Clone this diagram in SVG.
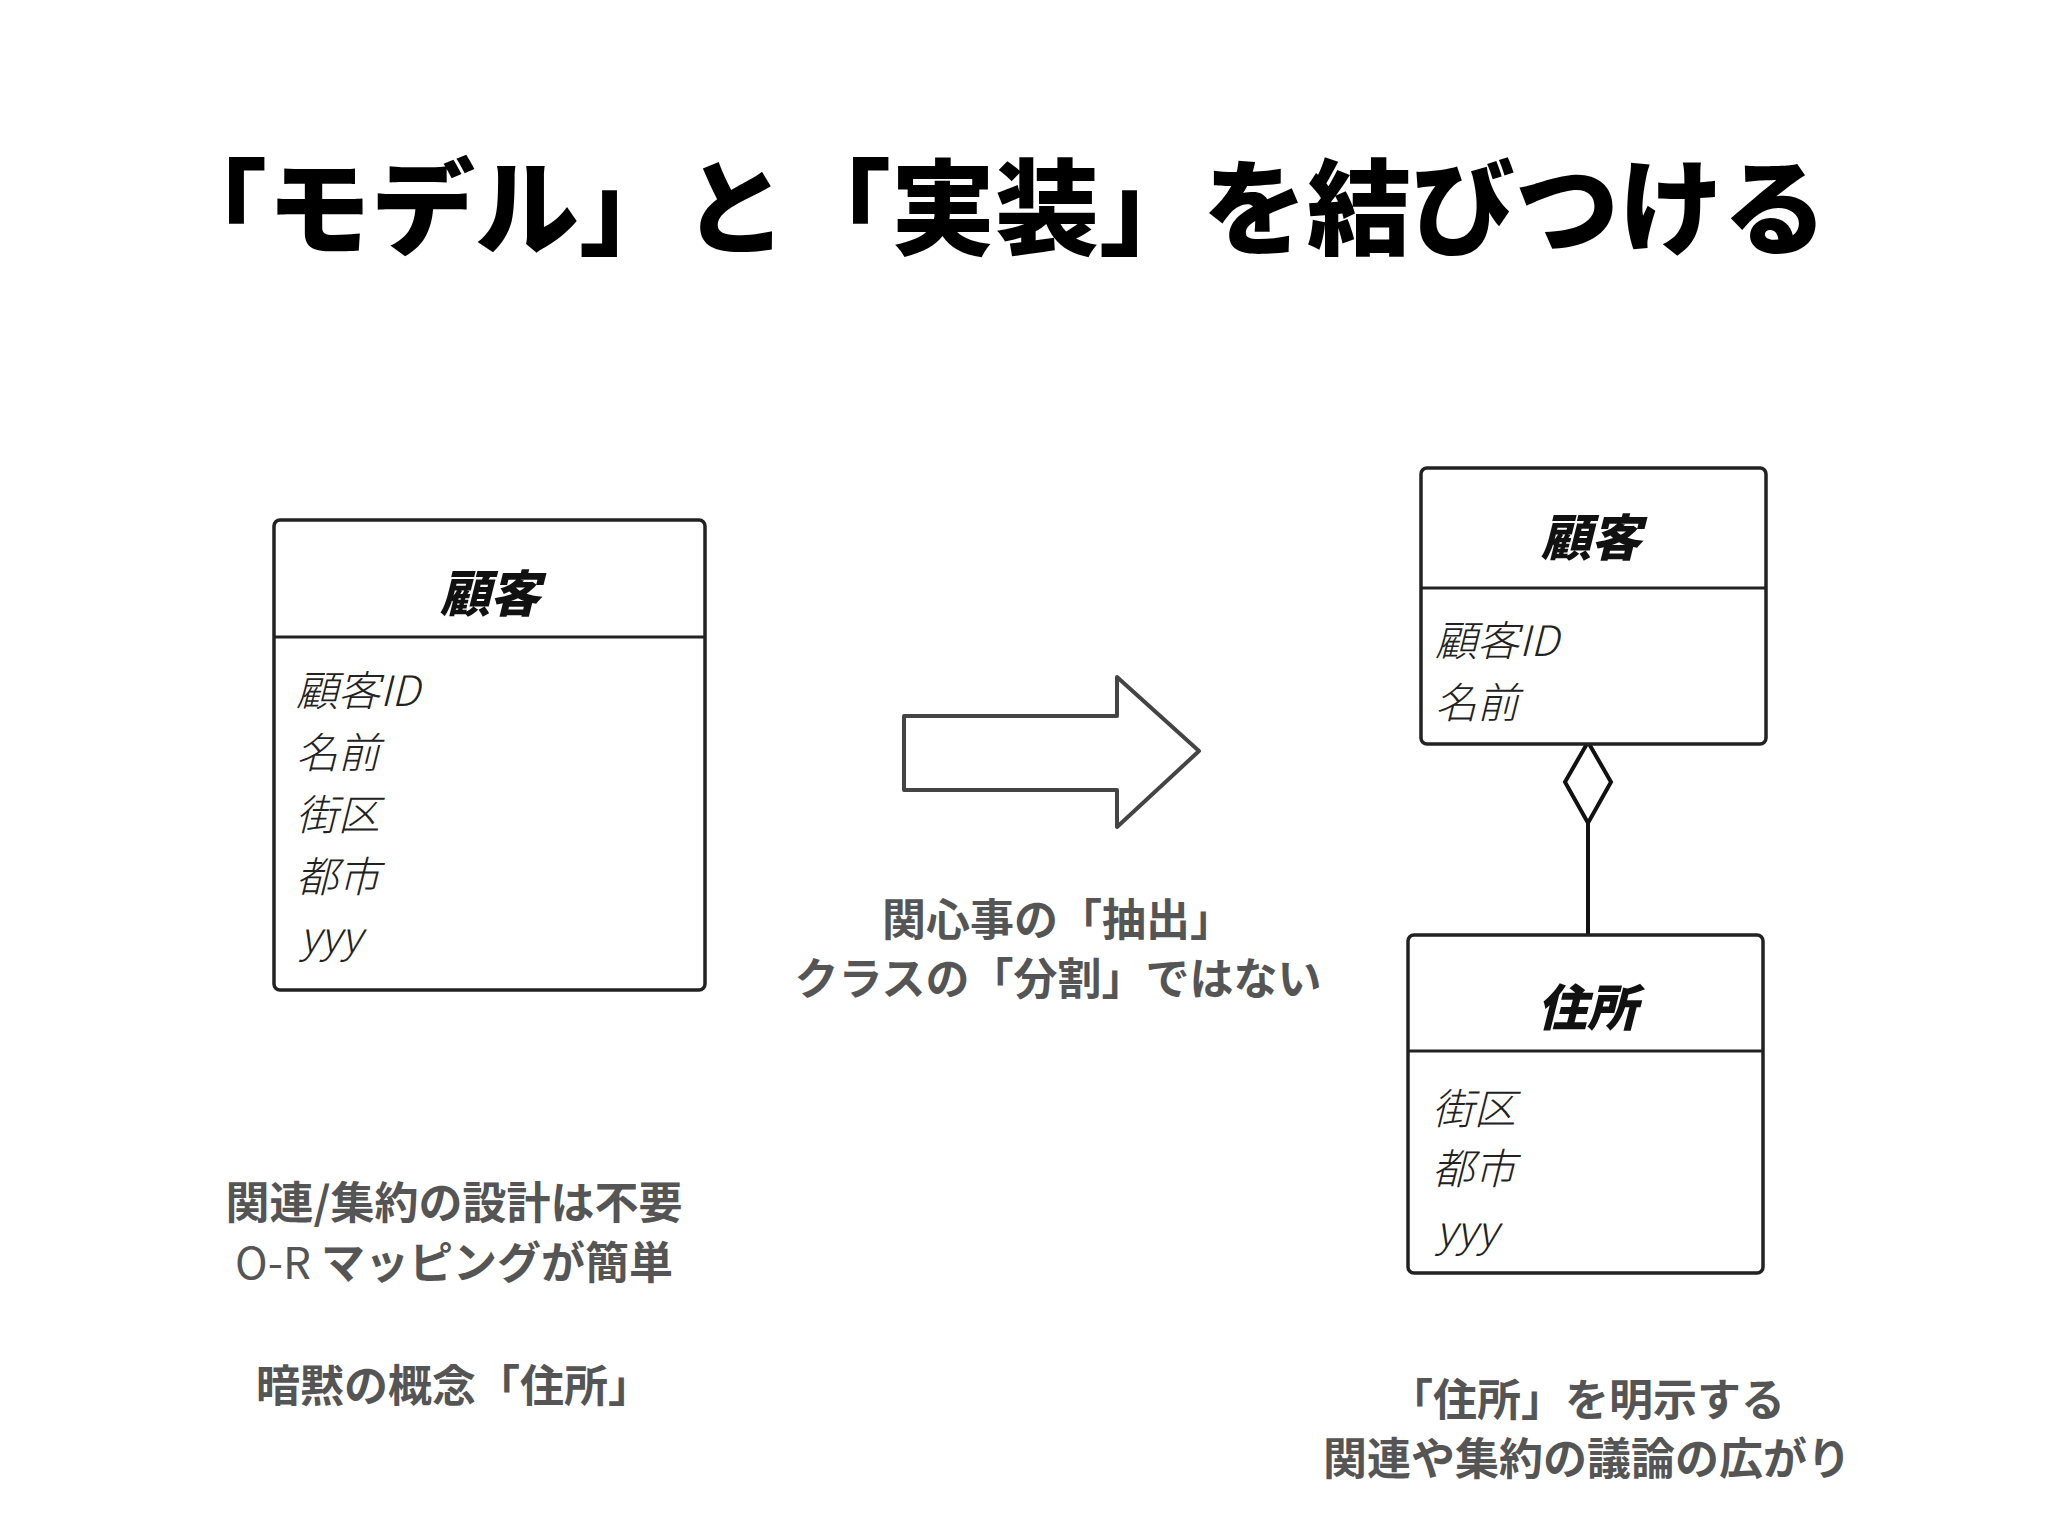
<svg xmlns="http://www.w3.org/2000/svg" width="2048" height="1535" viewBox="0 0 2048 1535">
<style>
.t{font-family:"Noto Sans CJK JP","Liberation Sans",sans-serif;font-weight:900;fill:#000}
.g{font-family:"Noto Sans CJK JP","Liberation Sans",sans-serif;font-weight:700;fill:#555;font-size:44px;text-anchor:middle}
.box{fill:#fff;stroke:#222;stroke-width:3.5}
.hd{font-family:"Noto Sans CJK JP",sans-serif;font-weight:900;font-style:italic;font-size:50px;text-anchor:middle;fill:#111}
.at{font-family:"Noto Sans CJK JP",sans-serif;font-weight:300;font-style:italic;font-size:42px;fill:#222}
</style>
<rect width="2048" height="1535" fill="#fff"/>
<text class="t" x="163" y="247" font-size="104">「モデル」と「実装」を結びつける</text>
<g id="left-box">
<rect class="box" x="274" y="520" width="431" height="470" rx="6"/>
<line x1="274" y1="637" x2="705" y2="637" stroke="#222" stroke-width="3"/>
<text class="hd" x="490" y="612">顧客</text>
<text class="at" x="296" y="706">顧客ID</text>
<text class="at" x="296" y="768">名前</text>
<text class="at" x="296" y="830">街区</text>
<text class="at" x="296" y="892">都市</text>
<text class="at" x="300" y="952" font-size="36">yyy</text>
</g>
<g id="arrow">
<path d="M904,716 L1117,716 L1117,677 L1199,751 L1117,827 L1117,790 L904,790 Z" fill="#fff" stroke="#444" stroke-width="4" stroke-linejoin="round"/>
</g>
<g id="middle-text">
<text class="g" x="1058" y="936">関心事の「抽出」</text>
<text class="g" x="1058" y="995">クラスの「分割」ではない</text>
</g>
<g id="connectors">
<line x1="1588" y1="823" x2="1588" y2="938" stroke="#111" stroke-width="4"/>
<path d="M1588,742 L1611,782 L1588,823 L1565,782 Z" fill="#fff" stroke="#111" stroke-width="4"/>
</g>
<g id="right-customer">
<rect class="box" x="1421" y="468" width="345" height="276" rx="6"/>
<line x1="1421" y1="588" x2="1766" y2="588" stroke="#222" stroke-width="3"/>
<text class="hd" x="1591" y="556">顧客</text>
<text class="at" x="1435" y="656">顧客ID</text>
<text class="at" x="1435" y="718">名前</text>
</g>
<g id="right-address">
<rect class="box" x="1408" y="935" width="355" height="338" rx="6"/>
<line x1="1408" y1="1051" x2="1763" y2="1051" stroke="#222" stroke-width="3"/>
<text class="hd" x="1587" y="1026">住所</text>
<text class="at" x="1432" y="1124">街区</text>
<text class="at" x="1432" y="1184">都市</text>
<text class="at" x="1436" y="1246" font-size="36">yyy</text>
</g>
<g id="left-notes">
<text class="g" x="454" y="1219">関連/集約の設計は不要</text>
<text class="g" x="454" y="1279"><tspan font-weight="400">O-R</tspan> マッピングが簡単</text>
<text class="g" x="454" y="1402">暗黙の概念「住所」</text>
</g>
<g id="right-notes">
<text class="g" x="1587" y="1416">「住所」を明示する</text>
<text class="g" x="1587" y="1475">関連や集約の議論の広がり</text>
</g>
</svg>
